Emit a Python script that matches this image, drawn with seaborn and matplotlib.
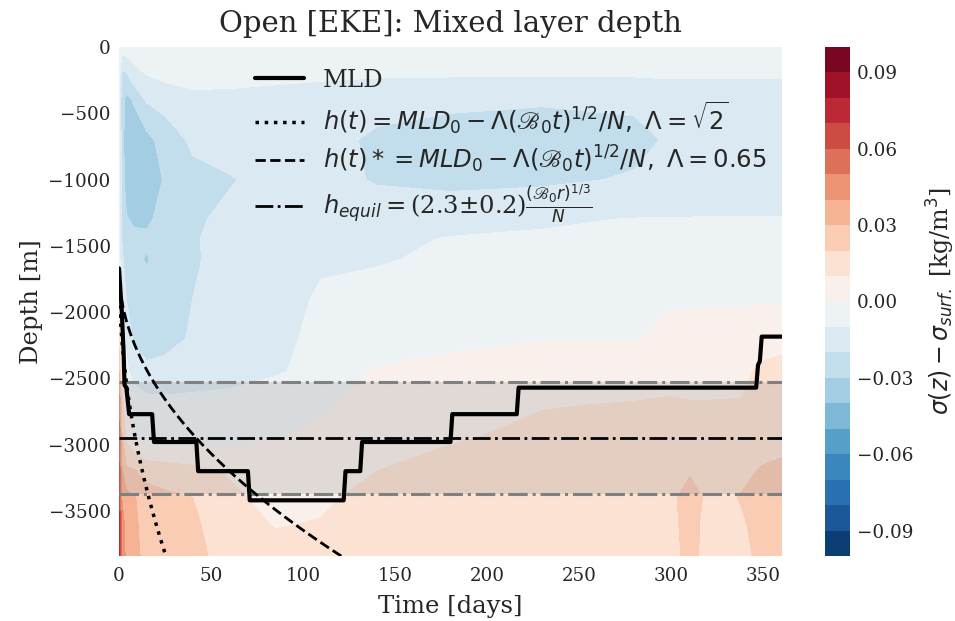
import numpy as np
import matplotlib
matplotlib.use("Agg")
import matplotlib.pyplot as plt
import seaborn as sns

# ---- density anomaly sigma(z) - sigma_surf on a (depth, time) grid [kg/m^3]
time_days = [0, 1.5, 4, 8, 15, 25, 40, 60, 85, 110, 140, 180, 230, 280, 298, 310, 322, 338, 350, 360]
depth_m = [0, -200, -400, -700, -1000, -1300, -1450, -1600, -1900, -2200,
           -2450, -2700, -2950, -3200, -3400, -3600, -3850]
sigma_anom = [
    [-0.004, -0.005, -0.005, -0.005, -0.005, -0.005, -0.005, -0.005, -0.005, -0.005, -0.005, -0.005, -0.005, -0.005, -0.005, -0.005, -0.005, -0.005, -0.005, -0.005],
    [-0.005, -0.021, -0.021, -0.013, -0.0095, -0.007, -0.0055, -0.006, -0.007, -0.008, -0.0088, -0.0088, -0.0088, -0.0088, -0.0088, -0.0088, -0.0088, -0.0088, -0.0088, -0.0088],
    [-0.006, -0.026, -0.033, -0.029, -0.019, -0.016, -0.013, -0.013, -0.014, -0.015, -0.016, -0.018, -0.019, -0.018, -0.015, -0.015, -0.015, -0.015, -0.015, -0.015],
    [-0.006, -0.025, -0.036, -0.037, -0.033, -0.026, -0.018, -0.014, -0.015, -0.016, -0.022, -0.024, -0.025, -0.023, -0.019, -0.016, -0.015, -0.015, -0.015, -0.015],
    [-0.006, -0.023, -0.036, -0.038, -0.036, -0.029, -0.023, -0.021, -0.015, -0.016, -0.021, -0.023, -0.022, -0.019, -0.016, -0.015, -0.014, -0.014, -0.014, -0.014],
    [-0.006, -0.021, -0.029, -0.032, -0.032, -0.026, -0.022, -0.017, -0.015, -0.015, -0.014, -0.013, -0.011, -0.0097, -0.0097, -0.0097, -0.0097, -0.0097, -0.0097, -0.0097],
    [-0.006, -0.020, -0.025, -0.027, -0.028, -0.024, -0.021, -0.016, -0.015, -0.013, -0.012, -0.0095, -0.009, -0.008, -0.008, -0.008, -0.008, -0.008, -0.008, -0.008],
    [-0.006, -0.018, -0.024, -0.027, -0.031, -0.024, -0.021, -0.017, -0.015, -0.011, -0.0105, -0.009, -0.007, -0.006, -0.006, -0.006, -0.006, -0.006, -0.006, -0.006],
    [0.004, -0.012, -0.020, -0.024, -0.025, -0.025, -0.020, -0.016, -0.013, -0.009, -0.008, -0.006, -0.003, -0.002, -0.001, -0.001, -0.001, -0.001, -0.001, -0.001],
    [0.015, -0.003, -0.012, -0.022, -0.024, -0.023, -0.019, -0.015, -0.012, -0.008, -0.006, -0.003, -0.0005, -0.0005, 0.002, 0.003, 0.004, 0.004, 0.006, 0.007],
    [0.030, 0.006, -0.008, -0.014, -0.018, -0.017, -0.015, -0.013, -0.011, -0.007, 0.001, 0.004, 0.005, 0.006, 0.007, 0.007, 0.007, 0.008, 0.012, 0.013],
    [0.045, 0.014, 0.002, -0.004, -0.006, -0.007, -0.007, -0.007, -0.004, -0.001, 0.003, 0.006, 0.0095, 0.0105, 0.011, 0.0105, 0.0105, 0.0105, 0.013, 0.014],
    [0.055, 0.022, 0.008, 0.001, -0.003, -0.004, -0.004, -0.003, -0.0005, 0.002, 0.005, 0.009, 0.0125, 0.013, 0.013, 0.013, 0.013, 0.014, 0.016, 0.017],
    [0.062, 0.032, 0.022, 0.021, 0.016, 0.015, 0.013, 0.009, 0.007, 0.008, 0.010, 0.014, 0.015, 0.016, 0.017, 0.019, 0.016, 0.018, 0.021, 0.022],
    [0.068, 0.040, 0.033, 0.031, 0.025, 0.022, 0.020, 0.012, 0.007, 0.0085, 0.013, 0.015, 0.016, 0.017, 0.017, 0.024, 0.017, 0.0205, 0.024, 0.025],
    [0.072, 0.045, 0.036, 0.032, 0.026, 0.024, 0.022, 0.013, 0.0095, 0.0105, 0.014, 0.015, 0.015, 0.016, 0.017, 0.023, 0.016, 0.019, 0.023, 0.024],
    [0.076, 0.048, 0.037, 0.033, 0.027, 0.025, 0.023, 0.016, 0.013, 0.013, 0.015, 0.015, 0.015, 0.016, 0.017, 0.022, 0.017, 0.018, 0.022, 0.024],
]

# ---- diagnosed mixed layer depth (breakpoints of the stepped record)
mld_days = [0, 1.5, 2.5, 3, 4, 5.5, 18, 19, 42, 43, 70, 71, 122, 123, 131, 132,
            180, 181, 216, 217, 346, 347, 348, 349, 360]
mld_depth = [-1670, -1990, -2300, -2550, -2570, -2770, -2770, -2980, -2980, -3200,
             -3200, -3420, -3420, -3200, -3200, -2980, -2980, -2770, -2770, -2570,
             -2570, -2400, -2370, -2185, -2185]

# ---- scaling parameters
mld0 = -1670.0              # initial mixed layer depth [m]
growth_scale = 304.0        # (B0)^(1/2)/N expressed in m / day^(1/2)
lambda_strong = np.sqrt(2)
lambda_weak = 0.65
h_equil = -2950.0
h_equil_upper = -2530.0
h_equil_lower = -3370.0

sns.set_theme(style="white")
plt.rcParams["font.family"] = ["DejaVu Serif"]
plt.rcParams["mathtext.fontset"] = "dejavusans"

fig = plt.figure(figsize=(9.55, 6.21), dpi=100)
ax = fig.add_axes([0.1246, 0.1047, 0.6942, 0.8196])
cax = fig.add_axes([0.8639, 0.1047, 0.0262, 0.8196])

levels = np.linspace(-0.1, 0.1, 21)
cf = ax.contourf(time_days, depth_m, np.array(sigma_anom), levels=levels, cmap="RdBu_r")

# equilibrium depth with its uncertainty band
ax.axhspan(h_equil_lower, h_equil_upper, color="gray", alpha=0.2, lw=0)
ax.axhline(h_equil_upper, color="gray", ls="-.", lw=2.2)
ax.axhline(h_equil_lower, color="gray", ls="-.", lw=2.2)

t = np.linspace(0, 360, 1441)
h_strong = mld0 - lambda_strong * growth_scale * np.sqrt(t)
h_weak = mld0 - lambda_weak * growth_scale * np.sqrt(t)

sns.lineplot(x=mld_days, y=mld_depth, ax=ax, color="black", lw=3, sort=False,
             estimator=None, label="MLD")
sns.lineplot(x=t, y=h_strong, ax=ax, color="black", lw=2.5, ls=":", sort=False, estimator=None,
             label=r"$h(t) = MLD_0 - \Lambda(\mathscr{B}_0t)^{1/2}/N,\ \Lambda = \sqrt{2}$")
sns.lineplot(x=t, y=h_weak, ax=ax, color="black", lw=2, ls="--", sort=False, estimator=None,
             label=r"$h(t)* = MLD_0 - \Lambda(\mathscr{B}_0t)^{1/2}/N,\ \Lambda = 0.65$")
ax.axhline(h_equil, color="black", ls="-.", lw=2,
           label=r"$h_{equil} = $(2.3$\pm$0.2)$\frac{(\mathscr{B}_0r)^{1/3}}{N}$")

ax.set_xlim(0, 360)
ax.set_ylim(-3840, 0)
ax.set_xticks([0, 50, 100, 150, 200, 250, 300, 350])
ax.set_yticks([0, -500, -1000, -1500, -2000, -2500, -3000, -3500])
ax.tick_params(axis="y", length=0, labelsize=13.2, pad=6)
ax.tick_params(axis="x", length=0, labelsize=13.2, pad=8)
for s in ax.spines.values():
    s.set_visible(False)
ax.set_xlabel("Time [days]", fontsize=17.5, labelpad=7)
ax.set_ylabel("Depth [m]", fontsize=17.5)
ax.set_title("Open [EKE]: Mixed layer depth", fontsize=21, pad=11)

ax.legend(loc="upper left", bbox_to_anchor=(0.172, 1.0), frameon=False,
          fontsize=17.5, handlelength=2.0, labelspacing=0.32)

cb = fig.colorbar(cf, cax=cax, ticks=[-0.09, -0.06, -0.03, 0.0, 0.03, 0.06, 0.09])
cb.outline.set_visible(False)
cb.ax.tick_params(length=0, labelsize=13.2, pad=5)
cb.set_label(r"$\sigma(z) - \sigma_{surf.}$ [kg/m$^3$]", fontsize=17, labelpad=8)

fig.savefig("out.png", dpi=100)
